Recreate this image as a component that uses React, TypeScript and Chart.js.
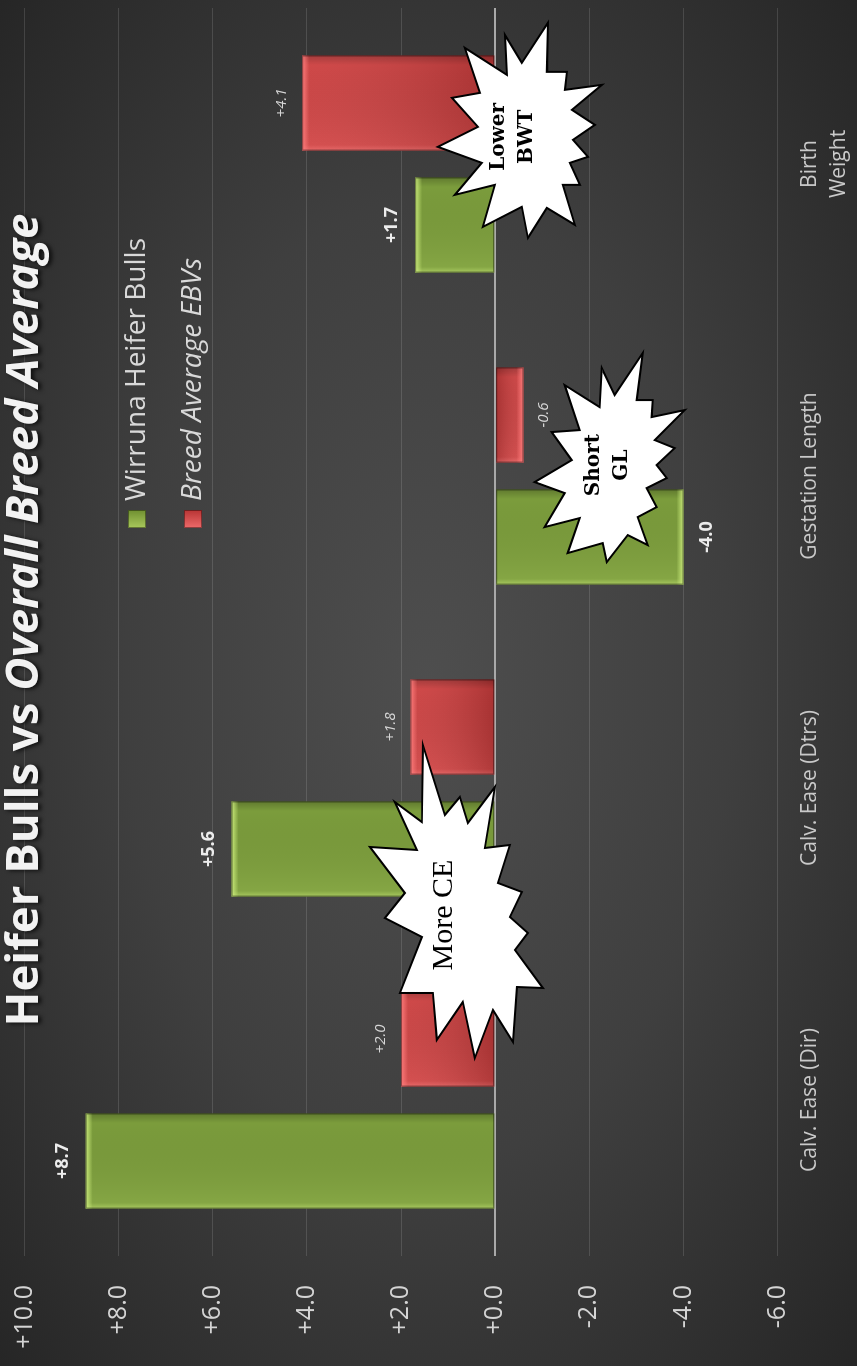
import { useEffect, useRef } from "react";
import { Chart, registerables } from "chart.js";

Chart.register(...registerables);

// ---------- data ----------
const categories: (string | string[])[] = [
  "Calv. Ease (Dir)",
  "Calv. Ease (Dtrs)",
  "Gestation Length",
  ["Birth", "Weight"],
];
const seriesNames = ["Wirruna Heifer Bulls", "Breed Average EBVs"];
const heiferBulls = [8.7, 5.6, -4.0, 1.7];
const breedAverage = [2.0, 1.8, -0.6, 4.1];
const axisMin = -6;
const axisMax = 10;
const axisStep = 2;
const titleParts = ["Heifer Bulls vs ", "Overall Breed Average"];

// callouts: anchored in data units (category index, value); shape offsets in px
const moreCeShape = [
  [170, -21], [100, 1], [118, 16], [92, 24], [128, 51], [67, 41], [70, 66], [32, 54],
  [23, 78], [-2, 66], [-18, 84], [-35, 71], [-73, 99], [-72, 73], [-127, 69], [-95, 49],
  [-143, 31], [-87, 19], [-125, -7], [-78, -11], [-78, -44], [-22, -22], [-3, -59],
  [22, -39], [68, -74], [65, -27], [113, -49], [93, -22],
];
const shortGlShape = [
  [112, 35], [65, 29], [65, 45], [48, 44], [55, 77], [25, 47], [17, 67], [0, 49],
  [-13, 59], [-23, 39], [-42, 49], [-52, 30], [-80, 40], [-70, 20], [-97, -1], [-78, -5],
  [-88, -40], [-53, -28], [-62, -63], [-28, -43], [-17, -73], [5, -36], [33, -56],
  [35, -28], [80, -43], [58, -8], [97, -6], [70, 7],
];
const lowerBwtShape = [
  [114, 35], [74, 9], [102, -8], [62, -6], [89, -48], [44, -33], [39, -61], [10, -35],
  [-10, -75], [-26, -31], [-58, -58], [-48, -18], [-90, -30], [-70, 9], [-101, 15],
  [-71, 34], [-88, 62], [-48, 50], [-48, 67], [-26, 57], [-20, 75], [-3, 60], [12, 82],
  [27, 59], [52, 89], [47, 52], [65, 54], [65, 34],
];
const callouts = [
  { lines: ["More CE"], cat: 0.593, value: 1.09, font: "30px 'Liberation Serif'", gap: 30, shape: moreCeShape },
  { lines: ["Short", "GL"], cat: 2.035, value: -2.39, font: "bold 20px 'DejaVu Serif'", gap: 28, shape: shortGlShape },
  { lines: ["Lower", "BWT"], cat: 3.087, value: -0.376, font: "bold 20px 'DejaVu Serif'", gap: 28, shape: lowerBwtShape },
];

const fmt = (v: number) => (v >= 0 ? "+" : "") + v.toFixed(1);

const barStyles = [
  {
    fill: "#7b9c3c",
    hi: "rgba(205,238,125,",
    labelFont: "bold 18px 'Open Sans'",
    labelColor: "#ececec",
    labelOffset: 23,
    lengthShade: false,
  },
  {
    fill: "#cc3d3d",
    hi: "rgba(255,125,125,",
    labelFont: "italic 15px 'Open Sans'",
    labelColor: "#d6d6d6",
    labelOffset: 20,
    lengthShade: true,
  },
];

const decorPlugin = {
  id: "decor",
  beforeDraw(chart: any) {
    const { ctx, width, height } = chart;
    ctx.save();
    ctx.translate(width / 2, height / 2);
    ctx.scale(width / height, 1);
    const r = Math.hypot(height / 2, height / 2);
    const g = ctx.createRadialGradient(0, 0, 0, 0, 0, r);
    g.addColorStop(0, "#4e4e4e");
    g.addColorStop(0.5, "#3f3f3f");
    g.addColorStop(1, "#262626");
    ctx.fillStyle = g;
    ctx.fillRect(-height / 2 - 2, -height / 2 - 2, height + 4, height + 4);
    ctx.restore();
  },
  afterDatasetsDraw(chart: any) {
    const ctx = chart.ctx;
    chart.data.datasets.forEach((ds: any, di: number) => {
      const meta = chart.getDatasetMeta(di);
      const st = barStyles[di];
      meta.data.forEach((el: any, i: number) => {
        const p = el.getProps(["x", "y", "base", "width"], true);
        const left = p.x - p.width / 2;
        const right = p.x + p.width / 2;
        const top = Math.min(p.y, p.base);
        const bottom = Math.max(p.y, p.base);
        const w = right - left;
        const h = bottom - top;
        const pos = p.y <= p.base;
        ctx.save();
        const gx = ctx.createLinearGradient(left, 0, right, 0);
        gx.addColorStop(0, st.hi + "0.55)");
        gx.addColorStop(0.06, st.hi + "0.12)");
        gx.addColorStop(0.9, "rgba(0,0,0,0.0)");
        gx.addColorStop(1, "rgba(0,0,0,0.22)");
        ctx.fillStyle = gx;
        ctx.fillRect(left, top, w, h);
        if (st.lengthShade) {
          const endY = pos ? top : bottom;
          const baseY = pos ? bottom : top;
          const gl = ctx.createLinearGradient(0, endY, 0, baseY);
          gl.addColorStop(0, "rgba(255,255,255,0.06)");
          gl.addColorStop(1, "rgba(0,0,0,0.16)");
          ctx.fillStyle = gl;
          ctx.fillRect(left, top, w, h);
        }
        const endY = pos ? top : bottom;
        const ge = ctx.createLinearGradient(0, endY, 0, endY + (pos ? 7 : -7));
        ge.addColorStop(0, st.hi + "0.95)");
        ge.addColorStop(1, st.hi + "0)");
        ctx.fillStyle = ge;
        if (pos) ctx.fillRect(left, top, w, Math.min(7, h));
        else ctx.fillRect(left, bottom - Math.min(7, h), w, Math.min(7, h));
        ctx.strokeStyle = "rgba(0,0,0,0.45)";
        ctx.lineWidth = 1;
        ctx.strokeRect(left + 0.5, top + 0.5, w - 1, h - 1);
        ctx.restore();

        ctx.save();
        ctx.font = st.labelFont;
        ctx.fillStyle = st.labelColor;
        ctx.textAlign = "center";
        ctx.textBaseline = "middle";
        const v = ds.data[i] as number;
        ctx.fillText(fmt(v), p.x, pos ? p.y - st.labelOffset : p.y + st.labelOffset);
        ctx.restore();
      });
    });
  },
  afterDraw(chart: any) {
    const ctx = chart.ctx;
    const area = chart.chartArea;
    // title
    ctx.save();
    const f1 = "bold 45.5px 'Open Sans'";
    const f2 = "italic bold 45.5px 'Open Sans'";
    ctx.font = f1;
    const w1 = ctx.measureText(titleParts[0]).width;
    ctx.font = f2;
    const w2 = ctx.measureText(titleParts[1]).width;
    const cx = (area.left + area.right) / 2 + 12;
    const x0 = cx - (w1 + w2) / 2;
    ctx.textBaseline = "alphabetic";
    ctx.textAlign = "left";
    ctx.shadowColor = "rgba(0,0,0,0.75)";
    ctx.shadowOffsetX = -1;
    ctx.shadowOffsetY = 3;
    ctx.shadowBlur = 4;
    ctx.fillStyle = "#f2f2f2";
    ctx.font = f1;
    ctx.fillText(titleParts[0], x0, 38);
    ctx.font = f2;
    ctx.fillText(titleParts[1], x0 + w1, 38);
    ctx.restore();

    // legend
    const legendRows = [
      { y: 137, font: "28px 'Open Sans'", c1: "#a9c95c", c2: "#6f8f30" },
      { y: 193, font: "italic 28px 'Open Sans'", c1: "#ee6a6a", c2: "#b83434" },
    ];
    legendRows.forEach((row, k) => {
      ctx.save();
      const sx = 838;
      const sy = row.y - 9;
      const g = ctx.createLinearGradient(sx, 0, sx + 18, 0);
      g.addColorStop(0, row.c1);
      g.addColorStop(1, row.c2);
      ctx.fillStyle = g;
      ctx.fillRect(sx, sy, 18, 18);
      ctx.strokeStyle = "rgba(0,0,0,0.4)";
      ctx.strokeRect(sx + 0.5, sy + 0.5, 17, 17);
      ctx.font = row.font;
      ctx.fillStyle = "#d9d9d9";
      ctx.textBaseline = "middle";
      ctx.textAlign = "left";
      ctx.fillText(seriesNames[k], 865, row.y);
      ctx.restore();
    });

    // callouts
    const xs = chart.scales.x;
    const ys = chart.scales.y;
    callouts.forEach((c) => {
      const px = xs.getPixelForValue(c.cat);
      const py = ys.getPixelForValue(c.value);
      ctx.save();
      ctx.beginPath();
      c.shape.forEach(([dx, dy], k) => {
        if (k === 0) ctx.moveTo(px + dx, py + dy);
        else ctx.lineTo(px + dx, py + dy);
      });
      ctx.closePath();
      ctx.fillStyle = "#ffffff";
      ctx.fill();
      ctx.lineJoin = "miter";
      ctx.lineWidth = 2;
      ctx.strokeStyle = "#000000";
      ctx.stroke();
      ctx.font = c.font;
      ctx.fillStyle = "#000000";
      ctx.textAlign = "center";
      ctx.textBaseline = "middle";
      const n = c.lines.length;
      c.lines.forEach((t, k) => {
        ctx.fillText(t, px, py + (k - (n - 1) / 2) * c.gap);
      });
      ctx.restore();
    });
  },
};

export default function App() {
  const ref = useRef<HTMLCanvasElement | null>(null);

  useEffect(() => {
    if (!ref.current) return;
    const chart = new Chart(ref.current, {
      type: "bar",
      data: {
        labels: categories as any,
        datasets: [
          {
            label: seriesNames[0],
            data: heiferBulls,
            backgroundColor: barStyles[0].fill,
            borderWidth: 0,
            categoryPercentage: 0.782,
            barPercentage: 0.78,
          },
          {
            label: seriesNames[1],
            data: breedAverage,
            backgroundColor: barStyles[1].fill,
            borderWidth: 0,
            categoryPercentage: 0.782,
            barPercentage: 0.78,
          },
        ],
      },
      options: {
        responsive: false,
        animation: false,
        devicePixelRatio: 1,
        layout: { padding: { left: 10, right: 8, top: 24.5, bottom: 0 } },
        plugins: {
          legend: { display: false },
          title: { display: false },
          tooltip: { enabled: false },
        },
        scales: {
          x: {
            type: "category",
            grid: { display: false, drawTicks: false },
            border: { display: false },
            afterFit: (s: any) => {
              s.height = 79.4;
              s.paddingLeft = 0;
              s.paddingRight = 0;
            },
            ticks: {
              color: "#c9c9c9",
              font: { family: "'Open Sans'", size: 21, lineHeight: 1.38 },
              padding: 18,
              maxRotation: 0,
              minRotation: 0,
              autoSkip: false,
            },
          },
          y: {
            min: axisMin,
            max: axisMax,
            afterFit: (s: any) => {
              s.width = 100;
              s.paddingTop = 0;
              s.paddingBottom = 0;
            },
            grid: {
              drawTicks: false,
              color: (c: any) => (c.tick && c.tick.value === 0 ? "#a9a9a9" : "rgba(255,255,255,0.13)"),
              lineWidth: (c: any) => (c.tick && c.tick.value === 0 ? 2 : 1),
            },
            border: { display: false },
            ticks: {
              stepSize: axisStep,
              color: "#d4d4d4",
              padding: 29,
              font: { family: "'Open Sans'", size: 25 },
              callback: (v: any) => fmt(Number(v)),
            },
          },
        },
      },
      plugins: [decorPlugin],
    } as any);
    return () => chart.destroy();
  }, []);

  return (
    <div
      style={{
        position: "fixed",
        left: 0,
        top: 0,
        width: 1366,
        height: 857,
        transformOrigin: "0 0",
        transform: "translateY(1366px) rotate(-90deg)",
        background: "#333",
      }}
    >
      <canvas ref={ref} width={1366} height={857} style={{ display: "block", width: 1366, height: 857 }} />
    </div>
  );
}
